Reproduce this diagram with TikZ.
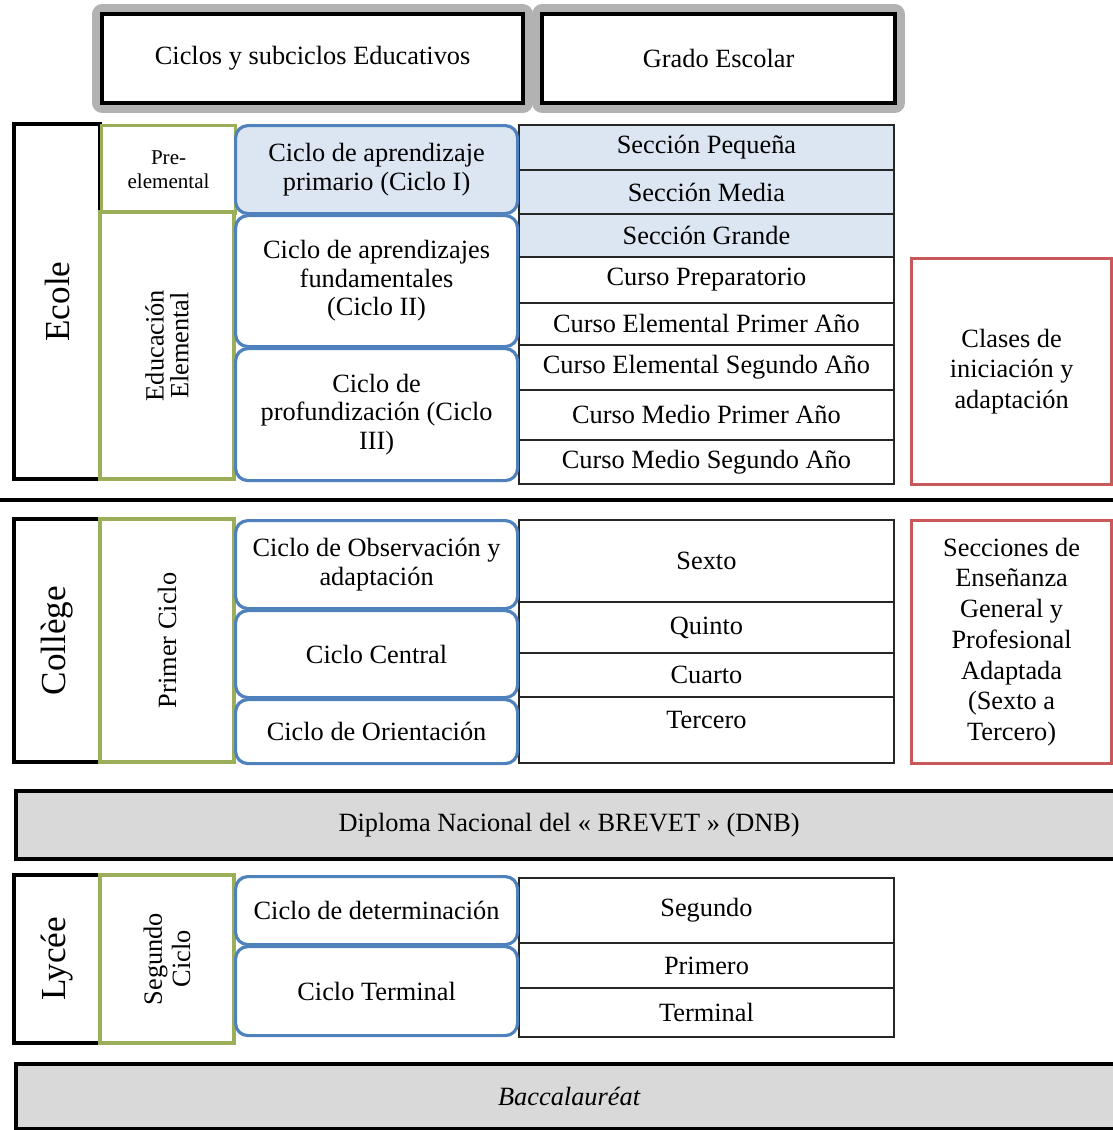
\documentclass[tikz,border=0pt]{standalone}
\usepackage{fontspec}
\setmainfont{Liberation Serif}

\definecolor{cicloblue}{HTML}{4F81BD}
\definecolor{paleblue}{HTML}{DCE6F2}
\definecolor{olivebox}{HTML}{9BAF5B}
\definecolor{redbox}{HTML}{C9585A}
\definecolor{graybar}{HTML}{D9D9D9}

\newcommand{\cellfont}{\fontsize{15}{16.2}\selectfont}
\newcommand{\levelfont}{\fontsize{20}{22}\selectfont}
% caja de (x1,y1) a (x2,y2) en pixeles
\newcommand{\cellbox}[6]{\node[#1, anchor=north west,
  minimum width={(#4-#2)*0.02cm}, minimum height={(#5-#3)*0.02cm}] (#6) at (#2,#3)}

\tikzset{
  header/.style={draw=black, line width=2.4pt, fill=white, inner sep=0pt,
    preaction={draw=black!30, line width=11pt, line join=round}, font=\cellfont},
  level/.style={draw=black, line width=2.4pt, fill=white, inner sep=0pt,
    rotate=90, font=\levelfont},
  subcycle/.style={draw=olivebox, line width=1.8pt, fill=white, inner sep=0pt,
    align=center, font=\fontsize{15}{14}\selectfont},
  cycle/.style={draw=cicloblue, line width=1.8pt, rounded corners=7pt, fill=white,
    inner sep=0pt, align=center, font=\cellfont},
  grade/.style={draw=black!85, line width=1.1pt, inner sep=0pt, font=\cellfont},
  special/.style={draw=redbox, line width=1.8pt, fill=white, inner sep=0pt,
    align=center, font=\fontsize{15}{17.5}\selectfont},
  diploma/.style={draw=black, line width=2.4pt, fill=graybar, inner sep=0pt, font=\cellfont},
}

\begin{document}
\begin{tikzpicture}[x=0.02cm,y=-0.02cm]
\useasboundingbox (0,0) rectangle (1113,1130);
\clip (0,0) rectangle (1113,1130);

% encabezado
\cellbox{header}{100}{12}{521}{101}{hdrcycles} {Ciclos y subciclos Educativos};
\cellbox{header}{540}{12}{893}{101}{hdrgrades} {Grado Escolar};

% Ecole
\node[level, minimum width=355*0.02cm, minimum height=86*0.02cm] (ecole) at (57,301.5) {Ecole};
\cellbox{subcycle, font=\fontsize{12}{13.6}\selectfont}{100}{124}{234}{212}{preelem} {Pre-\\elemental};
\node[subcycle, rotate=90, minimum width=267*0.02cm, minimum height=134*0.02cm] (eduelem) at (167,345.5) {Educación\\Elemental};

\foreach \nm/\ya/\yb/\fl/\txt in {
    seccpeq/124/169/paleblue/Sección Pequeña,
    seccmed/169/213/paleblue/Sección Media,
    seccgra/213/256/paleblue/Sección Grande,
    cprep/256/302/white/Curso Preparatorio,
    celemA/302/344/white/Curso Elemental Primer Año,
    celemB/344/389/white/Curso Elemental Segundo Año,
    cmedA/389/439/white/Curso Medio Primer Año,
    cmedB/439/483/white/Curso Medio Segundo Año}
  \cellbox{grade, fill=\fl}{518}{\ya}{893}{\yb}{\nm} {\txt};

\cellbox{cycle, fill=paleblue}{234}{124}{516}{212}{cicloI} {Ciclo de aprendizaje\\primario (Ciclo I)};
\cellbox{cycle}{234}{214}{516}{345}{cicloII} {Ciclo de aprendizajes\\fundamentales\\(Ciclo II)};
\cellbox{cycle}{234}{347}{516}{479}{cicloIII} {Ciclo de\\profundización (Ciclo\\III)};

\cellbox{special}{910}{257}{1110}{483}{iniciacion} {Clases de\\iniciación y\\adaptación};

% separador
\draw[line width=2.6pt] (0,500) -- (1113,500);

% College
\node[level, minimum width=243*0.02cm, minimum height=86*0.02cm] (college) at (57,640.5) {Collège};
\node[subcycle, rotate=90, minimum width=243*0.02cm, minimum height=134*0.02cm] (primerciclo) at (167,640.5) {Primer Ciclo};

\foreach \nm/\ya/\yb/\txt in {
    sexto/519/601/Sexto,
    quinto/601/652/Quinto,
    cuarto/652/696/Cuarto}
  \cellbox{grade}{518}{\ya}{893}{\yb}{\nm} {\txt};
\cellbox{grade, text depth=11pt}{518}{696}{893}{762}{tercero} {Tercero};

\cellbox{cycle}{234}{519}{516}{607}{observ} {Ciclo de Observación y\\adaptación};
\cellbox{cycle}{234}{609}{516}{696}{central} {Ciclo Central};
\cellbox{cycle}{234}{698}{516}{762}{orient} {Ciclo de Orientación};

\cellbox{special}{910}{519}{1110}{762}{segpa} {Secciones de\\Enseñanza\\General y\\Profesional\\Adaptada\\(Sexto a\\Tercero)};

% DNB
\cellbox{diploma}{14}{789}{1120}{857}{dnb} {Diploma Nacional del « BREVET » (DNB)};

% Lycee
\node[level, minimum width=168*0.02cm, minimum height=86*0.02cm] (lycee) at (57,959) {Lycée};
\node[subcycle, rotate=90, font=\fontsize{15}{16}\selectfont, minimum width=168*0.02cm, minimum height=134*0.02cm] (segciclo) at (167,959) {Segundo\\Ciclo};

\foreach \nm/\ya/\yb/\txt in {
    segundo/877/942/Segundo,
    primero/942/987/Primero,
    terminal/987/1036/Terminal}
  \cellbox{grade}{518}{\ya}{893}{\yb}{\nm} {\txt};

\cellbox{cycle}{234}{875}{516}{943}{determ} {Ciclo de determinación};
\cellbox{cycle}{234}{945}{516}{1034}{cterm} {Ciclo Terminal};

% Bac
\cellbox{diploma, font=\cellfont\itshape}{14}{1062}{1120}{1127}{bac} {Baccalauréat};
\end{tikzpicture}
\end{document}
